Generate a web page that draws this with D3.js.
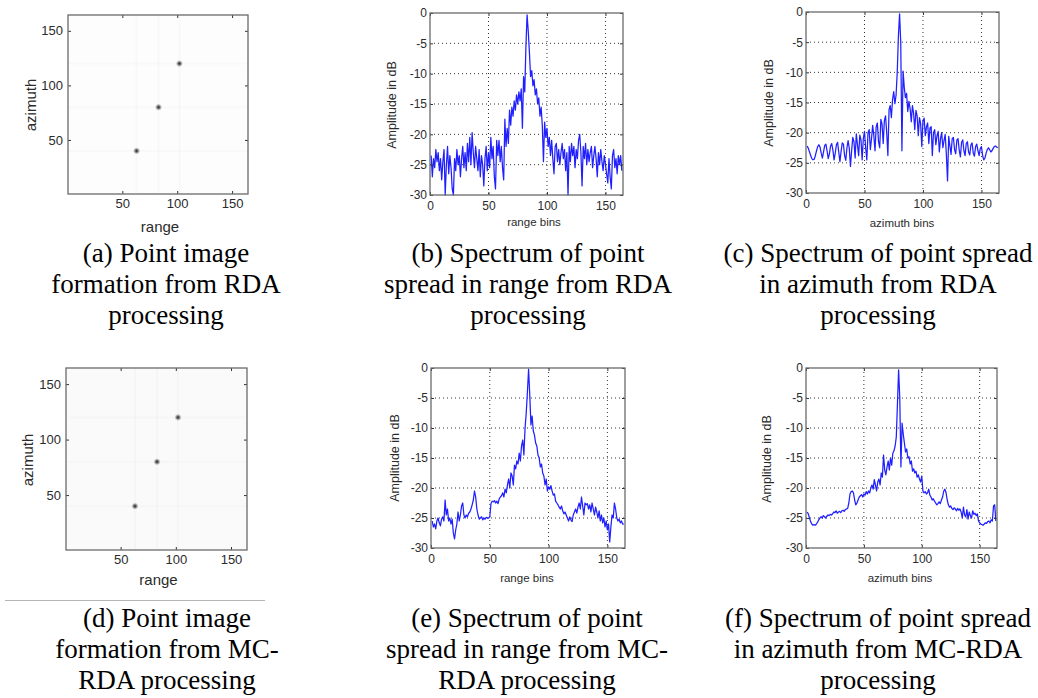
<!DOCTYPE html>
<html>
<head>
<meta charset="utf-8">
<script src="https://cdn.jsdelivr.net/npm/d3@7"></script>
<style>
  body { margin: 0; background: #fff; }
  svg { display: block; }
  .tick text { font-family: "Liberation Sans", Arial, sans-serif; fill: #2b2b2b; }
  .lbl { font-family: "Liberation Sans", Arial, sans-serif; fill: #2b2b2b; }
</style>
</head>
<body>
<svg id="fig" width="1038" height="698"></svg>
<script>
// bin index 1..164 for every spectrum
var bins = d3.range(1, 165);

var rdaRange = [
  -23.5,-27,-24,-25.5,-22.5,-24.5,-23,-26,-24,-27.5,
  -24.5,-22.5,-30,-25,-22,-26.5,-23.5,-25.5,-29,-30,
  -24,-26,-22.5,-25,-23.5,-27,-24,-22,-25.5,-23,
  -26,-21.5,-24.5,-20.5,-25,-19.7,-23,-25.5,-22,-24,
  -26,-22.5,-27,-23.5,-25,-28.5,-24,-22,-26,-23,
  -25.5,-20.5,-24,-22,-27,-29,-21,-23.5,-21,-24.5,
  -22,-25.5,-27.5,-17.5,-22,-19,-21.5,-16,-18.5,-15.5,
  -17,-14.5,-16,-13.5,-15,-13,-14.5,-12.5,-19,-10.5,
  -13,-5.5,-0.3,-3,-6.5,-10.5,-9.5,-12,-11,-13.5,
  -12.5,-15,-14,-17,-15.5,-18.5,-24.5,-18,-20.5,-19,
  -22,-20.5,-23.5,-21,-24,-26.5,-22,-21.5,-24.5,-22.5,
  -25,-23,-21.5,-24,-22.5,-26,-23,-30,-22,-24.5,
  -21.5,-23.5,-22,-25.5,-22.5,-24,-21,-20,-23,-28.5,
  -22,-24,-21.5,-25,-22.5,-24.5,-23,-22,-25.5,-23.5,
  -22,-24,-27,-23,-25,-22.5,-24.5,-26,-23.5,-25,
  -26.5,-28,-24,-27,-29,-23.5,-22.5,-25.5,-24,-26.5,
  -23.5,-25,-23.5,-26
];

var rdaAzimuth = [
  -22.2,-22.6,-23.2,-23.8,-24.3,-24.5,-24.4,-23.8,-23,-22.3,
  -22,-22.4,-23.4,-24.2,-23.2,-22.1,-21.9,-23,-24.3,-23.5,
  -22.2,-21.8,-22.9,-24.5,-23.4,-22,-21.6,-23.2,-24.8,-23.1,
  -21.7,-21.9,-23.8,-24.6,-22.5,-21.3,-22.6,-25.6,-23,-20.8,
  -21.5,-24.2,-20.2,-22,-23.8,-20.4,-21.2,-24.5,-21,-19.8,
  -22.5,-24.5,-20,-19.5,-22.8,-21,-18.8,-20.5,-23,-19,
  -18.4,-21.5,-22.5,-17.8,-18.6,-21.8,-18,-17.2,-20,-23.8,
  -16.2,-15.5,-17.5,-14.5,-13.2,-15.2,-13.8,-10,-4,-0.3,
  -5,-23,-9.8,-12.5,-14.2,-13.5,-16.5,-14.8,-16,-18.2,
  -15.5,-16.8,-19.5,-16.3,-17.2,-20.5,-17.5,-18.5,-22.3,-18,
  -17.6,-20.5,-19,-18.4,-21.8,-19.2,-19,-23.8,-20,-19.5,
  -22,-20.5,-19.8,-23.2,-21,-20,-22.5,-21.3,-20.3,-23.6,
  -28,-20.6,-22.2,-23.6,-21,-20.8,-22.8,-23.5,-21.2,-21,
  -22.9,-24,-21.6,-21.2,-23,-23.8,-21.8,-21.5,-23.2,-23.7,
  -22,-21.7,-23.4,-23.9,-22.3,-21.9,-23,-23.8,-22.6,-22.3,
  -23.8,-24.5,-24.2,-23.4,-22.8,-22.5,-22.8,-23.2,-23,-22.6,
  -22.3,-22.2,-22.4,-22.5
];

var mcRange = [
  -25.5,-26.5,-26,-26.8,-25.5,-25,-25.8,-26.3,-25.2,-24.8,
  -25.5,-22,-24.5,-23.5,-25.5,-25,-26,-25.2,-27.5,-28.5,
  -27,-26,-24,-25.5,-24.5,-23,-22.5,-24.5,-25,-24.5,
  -24.8,-24.2,-24,-23.5,-22.8,-22,-20.5,-21.5,-23.5,-24.5,
  -25.2,-25,-24.8,-25.3,-25,-25.2,-24.9,-25,-25,-24.8,
  -22.6,-22.2,-22.3,-22.1,-22.5,-22.2,-22.6,-21.8,-21.5,-21.3,
  -20.8,-21.5,-20.2,-20.8,-19.5,-18.5,-20,-17.5,-18,-19.5,
  -16.2,-16.8,-15.5,-16,-14.2,-15.5,-13,-12,-14.5,-10,
  -7.5,-4,-0.2,-4.5,-9.5,-8,-10.5,-11.2,-12.5,-13,
  -14.5,-15,-16.5,-16,-17.5,-18,-19.5,-18.5,-20.5,-19.8,
  -20.2,-19.6,-20.5,-21.2,-21,-22.2,-22.5,-22.8,-23.2,-23.5,
  -23,-23.8,-24.3,-24,-24.5,-25,-25.5,-24.8,-25.3,-25.6,
  -24.5,-24,-23.5,-24.2,-23.2,-22.5,-23.5,-21.5,-23,-24.5,
  -22.5,-22.8,-22.6,-23.5,-22.8,-24,-22.5,-23.5,-24.5,-23.2,
  -24,-25,-23.8,-25.5,-24.5,-25.8,-25,-26.5,-25.5,-27,
  -26,-29,-26.5,-24.5,-25,-22.5,-23.5,-25,-25.5,-25.2,
  -25.8,-25.5,-26,-26
];

var mcAzimuth = [
  -24,-24.3,-25,-25.6,-26,-26.2,-26.1,-26.2,-26,-25.7,
  -25.3,-25,-24.8,-25,-24.6,-24.8,-25,-24.7,-24.5,-24.6,
  -24.4,-24.5,-24.3,-24,-24.1,-23.8,-24.2,-24,-23.9,-24.1,
  -23.8,-23.7,-23.9,-23.6,-23.5,-23.4,-22.5,-21,-20.6,-20.5,
  -20.8,-22,-22.8,-22.5,-22,-21.5,-21.3,-21.1,-21.5,-21,
  -21.2,-20.6,-21,-20.5,-20.8,-20,-19.5,-20.2,-18.6,-19.5,
  -20.5,-19,-18.5,-19.5,-17.5,-18.2,-14.5,-17,-17.8,-16.5,
  -15.5,-17,-15,-16.2,-14.2,-13.8,-13,-11.5,-6,-0.3,
  -5,-16.5,-9.2,-11,-12.5,-14,-13.5,-15,-14.8,-16,
  -15.5,-17.2,-16.8,-17.5,-17.2,-18.2,-17.8,-18.5,-19,-18,
  -20.5,-20.8,-20.6,-21,-20.8,-20.2,-21.2,-21.5,-22,-21.8,
  -22.2,-22.5,-22.8,-22.6,-22.3,-22.6,-22,-21.5,-20.5,-20.2,
  -20.8,-22,-22.8,-23.2,-23,-23.4,-23.6,-23.3,-23.5,-23.8,
  -23.4,-23.7,-23.5,-24,-25,-23.2,-24.5,-24.8,-23.6,-25.2,
  -24,-24.6,-25,-23.8,-24.4,-24.2,-24.6,-24.3,-25.5,-25.8,
  -26,-26.1,-26.2,-26,-25.8,-25.9,-25.6,-25.5,-25.8,-25.3,
  -25.5,-23,-22.8,-25.5
];

// point targets (range bin, azimuth bin)
var targetsRDA = [[63, 40], [83, 80], [102, 120]];
var targetsMC = [[63, 40], [83, 80], [102, 120]];

var imgTicks = [50, 100, 150];
var specXTicks = [0, 50, 100, 150];
var specYTicks = [-30, -25, -20, -15, -10, -5, 0];
var gridX = [50, 100, 150];
var gridY = [-25, -20, -15, -10, -5];

var captions = [
  ['(a) Point image', 'formation from RDA', 'processing'],
  ['(b) Spectrum of point', 'spread in range from RDA', 'processing'],
  ['(c) Spectrum of point spread', 'in azimuth from RDA', 'processing'],
  ['(d) Point image', 'formation from MC-', 'RDA processing'],
  ['(e) Spectrum of point', 'spread in range from MC-', 'RDA processing'],
  ['(f) Spectrum of point spread', 'in azimuth from MC-RDA', 'processing']
];

var svg = d3.select('#fig');
svg.append('rect').attr('width', 1038).attr('height', 698).attr('fill', '#fff');

var defs = svg.append('defs');
var grad = defs.append('radialGradient').attr('id', 'blob');
grad.append('stop').attr('offset', '0%').attr('stop-color', '#000').attr('stop-opacity', 0.9);
grad.append('stop').attr('offset', '45%').attr('stop-color', '#222').attr('stop-opacity', 0.55);
grad.append('stop').attr('offset', '100%').attr('stop-color', '#666').attr('stop-opacity', 0);
defs.append('filter').attr('id', 'soft')
  .append('feGaussianBlur').attr('stdDeviation', 0.7);

function fmt(d) { return String(d); }

function frameAxes(g, x, y, xt, yt, box, o) {
  g.append('g').attr('transform', 'translate(0,' + box.y1 + ')')
    .call(d3.axisBottom(x).tickValues(xt).tickFormat(fmt).tickSizeInner(-3).tickSizeOuter(0).tickPadding(o.padX))
    .call(function(a) { a.select('.domain').remove(); a.selectAll('text').style('font-size', o.tickFont + 'px'); a.selectAll('line').attr('stroke', '#333'); });
  g.append('g').attr('transform', 'translate(0,' + box.y0 + ')')
    .call(d3.axisTop(x).tickValues(xt).tickFormat('').tickSizeInner(-3).tickSizeOuter(0))
    .call(function(a) { a.select('.domain').remove(); a.selectAll('line').attr('stroke', '#333'); });
  g.append('g').attr('transform', 'translate(' + box.x0 + ',0)')
    .call(d3.axisLeft(y).tickValues(yt).tickFormat(fmt).tickSizeInner(-3).tickSizeOuter(0).tickPadding(o.padY))
    .call(function(a) { a.select('.domain').remove(); a.selectAll('text').style('font-size', o.tickFont + 'px'); a.selectAll('line').attr('stroke', '#333'); });
  g.append('g').attr('transform', 'translate(' + box.x1 + ',0)')
    .call(d3.axisRight(y).tickValues(yt).tickFormat('').tickSizeInner(-3).tickSizeOuter(0))
    .call(function(a) { a.select('.domain').remove(); a.selectAll('line').attr('stroke', '#333'); });
  g.append('rect')
    .attr('x', box.x0).attr('y', box.y0)
    .attr('width', box.x1 - box.x0).attr('height', box.y1 - box.y0)
    .attr('fill', 'none').attr('stroke', '#6a6a6a').attr('stroke-width', 1.3);
}

function imagePanel(box, targets, bg, lab) {
  var x = d3.scaleLinear().domain([0.5, 164.5]).range([box.x0, box.x1]);
  var y = d3.scaleLinear().domain([0.5, 164.5]).range([box.y1, box.y0]);
  var g = svg.append('g');
  g.append('rect')
    .attr('x', x(0.5)).attr('y', y(164.5))
    .attr('width', x(164.5) - x(0.5)).attr('height', y(0.5) - y(164.5))
    .attr('fill', bg);
  // faint sidelobe streaks through each target
  g.selectAll('.vs').data(targets).enter().append('line')
    .attr('x1', function(d) { return x(d[0]); }).attr('x2', function(d) { return x(d[0]); })
    .attr('y1', y(164.5)).attr('y2', y(0.5))
    .attr('stroke', '#000').attr('stroke-opacity', 0.018).attr('stroke-width', 2);
  g.selectAll('.hs').data(targets).enter().append('line')
    .attr('y1', function(d) { return y(d[1]); }).attr('y2', function(d) { return y(d[1]); })
    .attr('x1', x(0.5)).attr('x2', x(164.5))
    .attr('stroke', '#000').attr('stroke-opacity', 0.015).attr('stroke-width', 2);
  g.selectAll('.hn').data(targets).enter().append('line')
    .attr('y1', function(d) { return y(d[1]); }).attr('y2', function(d) { return y(d[1]); })
    .attr('x1', function(d) { return x(d[0] - 12); }).attr('x2', function(d) { return x(d[0] + 12); })
    .attr('stroke', '#000').attr('stroke-opacity', 0.1).attr('stroke-width', 1.5)
    .attr('filter', 'url(#soft)');
  g.selectAll('.vn').data(targets).enter().append('line')
    .attr('x1', function(d) { return x(d[0]); }).attr('x2', function(d) { return x(d[0]); })
    .attr('y1', function(d) { return y(d[1] - 6); }).attr('y2', function(d) { return y(d[1] + 6); })
    .attr('stroke', '#000').attr('stroke-opacity', 0.1).attr('stroke-width', 1.5)
    .attr('filter', 'url(#soft)');
  g.selectAll('.pt').data(targets).enter().append('circle')
    .attr('cx', function(d) { return x(d[0]); })
    .attr('cy', function(d) { return y(d[1]); })
    .attr('r', 3.6).attr('fill', 'url(#blob)');

  frameAxes(g, x, y, imgTicks, imgTicks, box, { padX: 5, padY: 5, tickFont: 13 });

  g.append('text').attr('class', 'lbl')
    .attr('x', (box.x0 + box.x1) / 2 + 2).attr('y', lab.xy)
    .attr('text-anchor', 'middle').style('font-size', '15px').text('range');
  g.append('text').attr('class', 'lbl')
    .attr('transform', 'translate(' + lab.yx + ',' + lab.yy + ') rotate(-90)')
    .attr('text-anchor', 'middle').style('font-size', '15px').text('azimuth');
}

function spectrumPanel(box, values, xName, lab) {
  var x = d3.scaleLinear().domain([0, 165]).range([box.x0, box.x1]);
  var y = d3.scaleLinear().domain([-30, 0]).range([box.y1, box.y0]);
  var g = svg.append('g');

  g.selectAll('.gx').data(gridX).enter().append('line')
    .attr('x1', function(d) { return x(d); }).attr('x2', function(d) { return x(d); })
    .attr('y1', box.y0).attr('y2', box.y1)
    .attr('stroke', '#333').attr('stroke-width', 1).attr('stroke-dasharray', '1,3');
  g.selectAll('.gy').data(gridY).enter().append('line')
    .attr('y1', function(d) { return y(d); }).attr('y2', function(d) { return y(d); })
    .attr('x1', box.x0).attr('x2', box.x1)
    .attr('stroke', '#333').attr('stroke-width', 1).attr('stroke-dasharray', '1,3');

  var line = d3.line()
    .x(function(d, i) { return x(bins[i]); })
    .y(function(d) { return y(d); });
  g.append('path').datum(values)
    .attr('d', line)
    .attr('fill', 'none')
    .attr('stroke', '#2020ff')
    .attr('stroke-width', 1.25)
    .attr('stroke-linejoin', 'round');

  frameAxes(g, x, y, specXTicks, specYTicks, box, { padX: 6, padY: 3, tickFont: 12 });

  g.append('text').attr('class', 'lbl')
    .attr('x', lab.xx).attr('y', lab.xy)
    .attr('text-anchor', 'middle').style('font-size', '11.5px').text(xName);
  g.append('text').attr('class', 'lbl')
    .attr('transform', 'translate(' + lab.yx + ',' + lab.yy + ') rotate(-90)')
    .attr('text-anchor', 'middle').style('font-size', '12.5px').text('Amplitude in dB');
}

imagePanel({ x0: 68, x1: 248, y0: 15, y1: 194 }, targetsRDA, '#fdfdfd', { xy: 232, yx: 36, yy: 105 });
spectrumPanel({ x0: 430, x1: 623, y0: 13, y1: 195 }, rdaRange, 'range bins', { xx: 534, xy: 226, yx: 396, yy: 105 });
spectrumPanel({ x0: 806, x1: 999, y0: 12, y1: 193 }, rdaAzimuth, 'azimuth bins', { xx: 902, xy: 227, yx: 773, yy: 103 });

imagePanel({ x0: 66, x1: 247, y0: 368, y1: 550 }, targetsMC, '#fafafa', { xy: 585, yx: 33, yy: 460 });
spectrumPanel({ x0: 431, x1: 625, y0: 368, y1: 548 }, mcRange, 'range bins', { xx: 527, xy: 582, yx: 399, yy: 458 });
spectrumPanel({ x0: 806, x1: 997, y0: 368, y1: 548 }, mcAzimuth, 'azimuth bins', { xx: 900, xy: 582, yx: 771, yy: 459 });

// thin rule under panel (d)
svg.append('line').attr('x1', 5).attr('x2', 265).attr('y1', 600.5).attr('y2', 600.5)
  .attr('stroke', '#b5b5b5').attr('stroke-width', 1);

var capX = [166, 528, 878, 167, 527, 878];
var capY = [262, 627];
captions.forEach(function(lines, k) {
  var t = svg.append('text')
    .attr('font-family', '"Liberation Serif", "Times New Roman", "DejaVu Serif", serif')
    .attr('font-size', 27)
    .attr('fill', '#000')
    .attr('text-anchor', 'middle');
  lines.forEach(function(s, j) {
    t.append('tspan').attr('x', capX[k]).attr('y', capY[k < 3 ? 0 : 1] + j * 31).text(s);
  });
});
</script>
</body>
</html>
